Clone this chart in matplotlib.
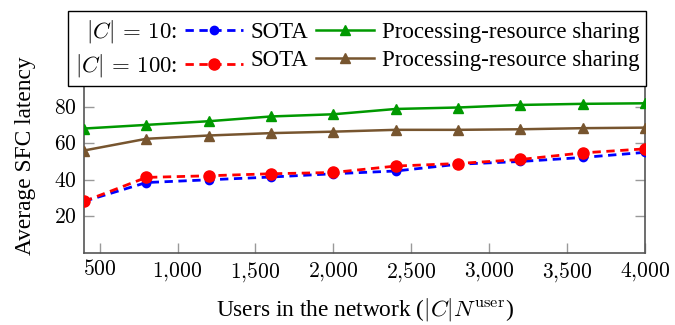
import matplotlib
matplotlib.use("Agg")
import matplotlib.pyplot as plt
from matplotlib.lines import Line2D
from matplotlib.ticker import FuncFormatter

users = [400, 800, 1200, 1600, 2000, 2400, 2800, 3200, 3600, 4000]
sota_c10 = [28.2, 38.5, 40.0, 41.5, 43.3, 44.8, 48.5, 50.0, 52.2, 55.0]
prs_c10 = [68.0, 70.0, 72.0, 74.6, 75.8, 78.7, 79.5, 80.9, 81.5, 81.8]
sota_c100 = [28.2, 41.3, 42.2, 43.3, 44.0, 47.5, 48.9, 51.1, 54.7, 56.9]
prs_c100 = [56.0, 62.4, 64.2, 65.5, 66.3, 67.3, 67.3, 67.6, 68.2, 68.5]
yticks = [20, 40, 60, 80]
xticks = [500, 1000, 1500, 2000, 2500, 3000, 3500, 4000]

plt.rcParams['font.family'] = ['Liberation Serif', 'DejaVu Serif']
plt.rcParams['mathtext.fontset'] = 'cm'
FS_TICK = 15.5
FS_LAB = 16.8
FS_LEG = 16.5

fig = plt.figure(figsize=(6.75, 3.25), dpi=100)
ax = fig.add_axes([84/675, 1-253/325, (645-84)/675, (253-59)/325])

blue = '#0000ff'
red = '#ff0000'
green = '#009900'
brown = '#77552f'

l_s10, = ax.plot(users, sota_c10, color=blue, lw=2.0, ls=(0, (3, 2)), marker='o', ms=6, zorder=3)
l_p10, = ax.plot(users, prs_c10, color=green, lw=1.8, marker='^', ms=7.5, zorder=3)
l_s100, = ax.plot(users, sota_c100, color=red, lw=2.0, ls=(0, (3, 2)), marker='o', ms=8, zorder=4)
l_p100, = ax.plot(users, prs_c100, color=brown, lw=1.8, marker='^', ms=7.5, zorder=3)

ax.set_xlim(400, 4000)
ax.set_ylim(0, 106)
ax.set_xticks(xticks)
ax.set_yticks(yticks)

def fmt(x, pos):
    s = f"{int(round(x)):,}".replace(',', '{,}')
    return f"${s}$"

ax.xaxis.set_major_formatter(FuncFormatter(fmt))
ax.yaxis.set_major_formatter(FuncFormatter(lambda v, p: f"${int(v)}$"))
ax.tick_params(direction='in', length=7, width=1.0, color='#999999', labelsize=FS_TICK,
               right=True, top=True, pad=5)
for sp in ax.spines.values():
    sp.set_color('#555555')
    sp.set_linewidth(1.2)

ax.set_xlabel(r"Users in the network ($|C|N^{\mathrm{user}}$)", fontsize=FS_LAB, labelpad=9)
ax.set_ylabel("Average SFC latency", fontsize=FS_LAB, labelpad=13)

blank = Line2D([], [], color='none')
handles = [l_s10, l_s100, l_p10, l_p100, blank, blank]
labels = [r"$|C|\,=\,10$:", r"$|C|\,=\,100$:", "SOTA", "SOTA",
          "Processing-resource sharing", "Processing-resource sharing"]
leg = fig.legend(handles, labels, ncol=3, markerfirst=False, loc='lower center',
                 bbox_to_anchor=(357/675, 1-86/325), fontsize=FS_LEG, frameon=True,
                 fancybox=False, edgecolor='black', framealpha=1,
                 handlelength=2.5, handletextpad=0.35, columnspacing=0.35,
                 labelspacing=0.3, borderpad=0.3, borderaxespad=0)
leg.get_frame().set_linewidth(1.0)
cols = leg._legend_handle_box.get_children()
for hp in cols[-1].get_children():
    hp.sep = 0
    for ch in hp.get_children():
        if ch.__class__.__name__ == 'DrawingArea':
            ch.width = 0

fig.savefig("out.png", dpi=100)
